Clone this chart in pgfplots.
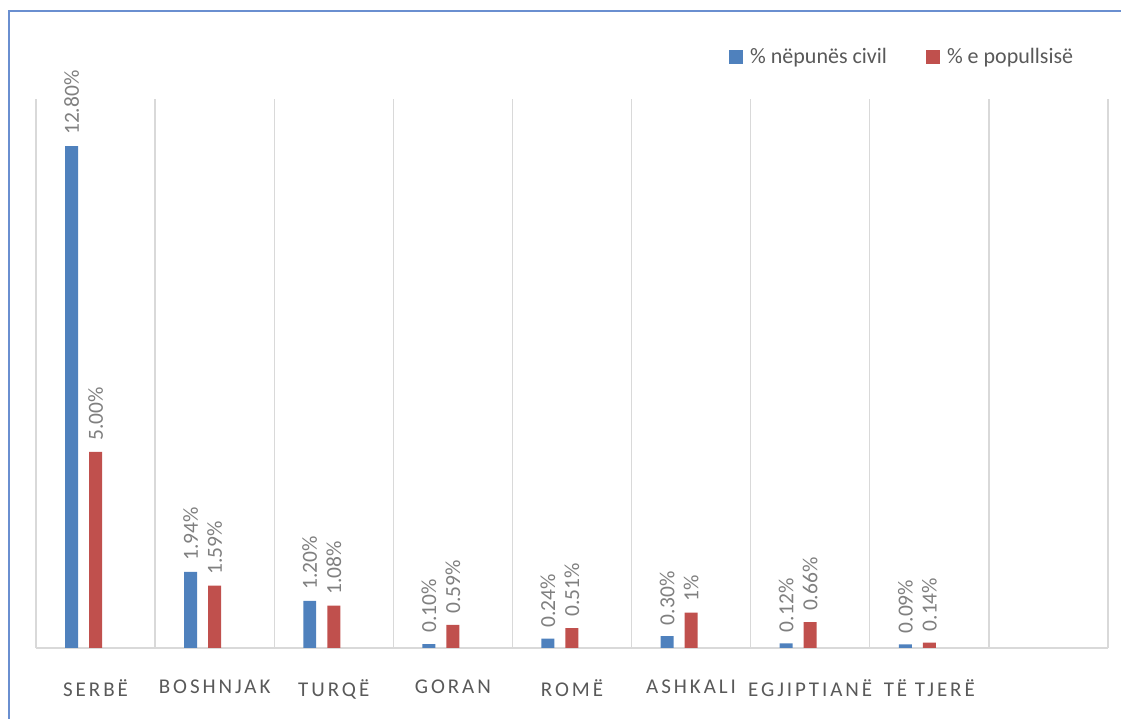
\documentclass[border=0pt]{standalone}
\usepackage{fontspec}
\setmainfont{Carlito}
\newfontfamily\spaced[LetterSpace=14]{Carlito}
\usepackage{pgfplots}
\pgfplotsset{compat=1.18}
\definecolor{cblue}{HTML}{4F81BD}
\definecolor{cred}{HTML}{C0504D}
\definecolor{lbl}{HTML}{7F7F7F}
\definecolor{catc}{HTML}{595959}
\definecolor{gridc}{HTML}{D9D9D9}
\definecolor{framec}{HTML}{6A8FD0}
\begin{document}
\begin{tikzpicture}
\path[use as bounding box] (0bp,0bp) rectangle (1121bp,719bp);
\draw[framec, line width=1.5bp] (9bp,0bp) -- (9bp,708bp) -- (1121bp,708bp);
\begin{axis}[
  at={(36bp,71bp)}, anchor=south west,
  scale only axis, width=1072bp, height=549bp,
  xmin=-0.5, xmax=8.5, ymin=0, ymax=14,
  axis x line*=bottom, axis y line*=left,
  x axis line style={gridc, line width=1.5bp, -},
  y axis line style={draw=none},
  ytick=\empty,
  xtick={0,...,7},
  xticklabels={SERBË, BOSHNJAK, TURQË, GORAN, ROMË, ASHKALI, EGJIPTIANË, TË TJERË},
  xticklabel style={font=\spaced\fontsize{21bp}{24bp}\selectfont, text=catc, yshift=-28bp},
  major tick length=0pt, minor tick length=0pt,
  minor xtick={-0.5,0.5,...,8.5},
  xminorgrids=true,
  minor grid style={gridc, line width=1.3bp},
  ybar, bar width=0.109,
  point meta=explicit symbolic,
  nodes near coords,
  nodes near coords style={rotate=90, anchor=west, font=\fontsize{21.5bp}{25bp}\selectfont, text=lbl, inner xsep=11bp, inner ysep=0pt},
  legend columns=2,
  legend style={at={(0.6465,1.0765)}, anchor=west, draw=none, fill=none, inner sep=0pt,
    font=\fontsize{22bp}{25bp}\selectfont, text=catc,
    nodes={inner sep=0pt},
    /tikz/every odd column/.append style={column sep=7bp},
    /tikz/every even column/.append style={column sep=39bp}},
  legend image code/.code={\fill[#1,/tikz/.cd] (0bp,-7bp) rectangle (14bp,7bp);},
]
\addplot[fill=cblue, draw=none, bar shift=-0.2017] coordinates {
  (0,12.80) [12.80\%]
  (1,1.94) [1.94\%]
  (2,1.20) [1.20\%]
  (3,0.10) [0.10\%]
  (4,0.24) [0.24\%]
  (5,0.30) [0.30\%]
  (6,0.12) [0.12\%]
  (7,0.09) [0.09\%]
};
\addplot[fill=cred, draw=none, bar shift=0] coordinates {
  (0,5.00) [5.00\%]
  (1,1.59) [1.59\%]
  (2,1.08) [1.08\%]
  (3,0.59) [0.59\%]
  (4,0.51) [0.51\%]
  (5,0.90) [1\%]
  (6,0.66) [0.66\%]
  (7,0.14) [0.14\%]
};
\legend{\% nëpunës civil, \% e popullsisë}
\end{axis}
\end{tikzpicture}
\end{document}
